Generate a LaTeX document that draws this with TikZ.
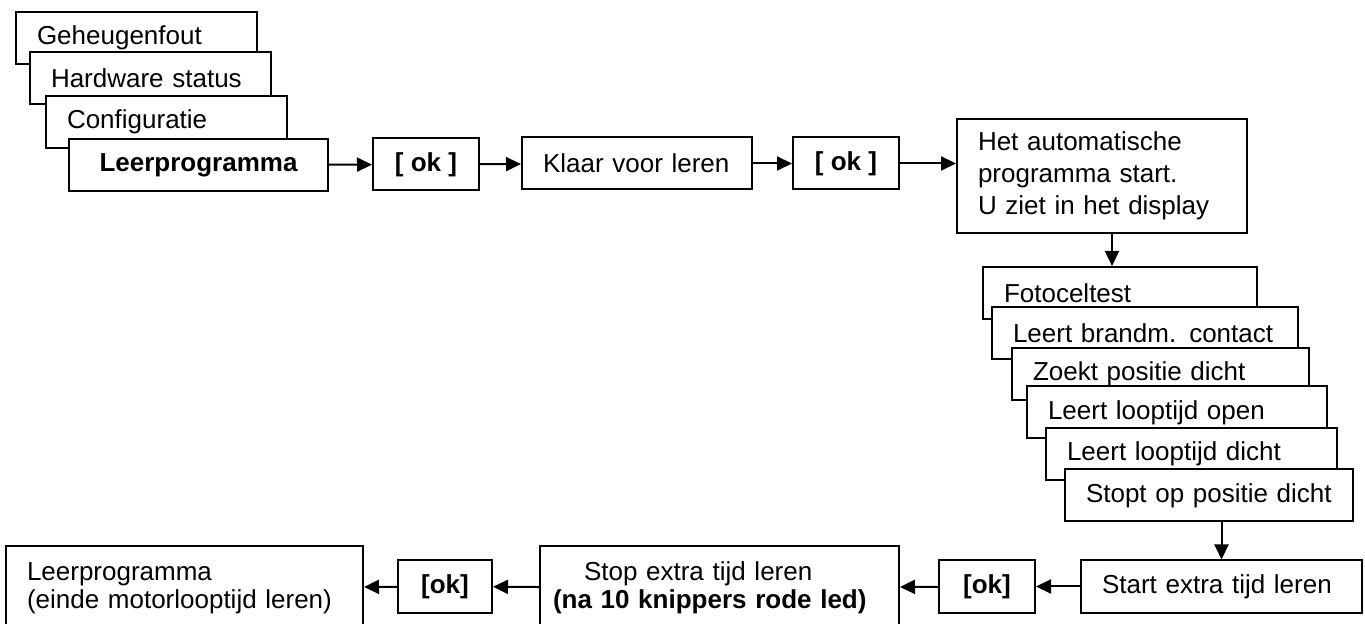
\documentclass[tikz,border=0pt]{standalone}
\usepackage{fontspec}
\setmainfont{Liberation Sans}
\usetikzlibrary{arrows.meta}

\begin{document}
\begin{tikzpicture}[x=0.5pt, y=-0.5pt, line width=1pt, >={Triangle[length=7.5pt,width=7pt]}, font=\fontsize{13pt}{15pt}\selectfont]
		\tikzstyle{box}=[draw=black, fill=white, inner xsep=10.5pt, inner ysep=0pt, minimum height=26pt, align=left]
		\tikzstyle{okbox}=[draw=black, fill=white, inner sep=0pt, minimum width=53pt, minimum height=26pt, font=\fontsize{13pt}{15pt}\selectfont\bfseries]

		\useasboundingbox (0,0) rectangle (1365,624);
		\clip (0,0) rectangle (1365,624);

		% Menu stack
		\node[box, text width=99.5pt] (geheugen) at (136.5,38) {Geheugenfout};
		\node[box, text width=99.5pt] (hardware) at (150.5,78) {Hardware status};
		\node[box, text width=99.5pt] (config) at (166.5,122) {Configuratie};
		\node[box, align=center, text width=108.5pt, font=\fontsize{13pt}{15pt}\selectfont\bfseries] (leerprog) at (198.5,165) {Leerprogramma};

		% Top row
		\node[okbox] (ok1) at (426,164.5) {[ ok ]};
		\node[box, text width=94pt] (klaar) at (637,163.5) {Klaar voor leren};
		\node[okbox] (ok2) at (846,163.5) {[ ok ]};
		\node[box, text width=124pt, minimum height=57pt, font=\fontsize{13pt}{16pt}\selectfont] (auto) at (1102,176) {Het automatische\\programma start.\\U ziet in het display};

		% Display stack
		\node[box, text width=116pt] (foto) at (1120,293) {Fotoceltest};
		\node[box, text width=132pt] (brandm) at (1145,333) {Leert brandm. contact};
		\node[box, text width=127.5pt] (zoekt) at (1160.5,374) {Zoekt positie dicht};
		\node[box, text width=129pt] (lopen) at (1177,412.5) {Leert looptijd open};
		\node[box, text width=124.5pt] (ldicht) at (1191.5,454) {Leert looptijd dicht};
		\node[box, text width=123pt] (stopt) at (1209,495.5) {Stopt op positie dicht};

		% Bottom row
		\node[box, text width=119.5pt] (startx) at (1221.5,586.5) {Start extra tijd leren};
		\node[okbox, minimum width=48pt] (ok3) at (987,586.5) {[ok]};
		\node[box, inner xsep=6.5pt, text width=166.5pt, minimum height=42pt, font=\fontsize{13pt}{14pt}\selectfont] (stopx) at (719.5,588) {\hspace*{15.5pt}Stop extra tijd leren\\\textbf{(na 10 knippers rode led)}};
		\node[okbox, minimum width=47pt] (ok4) at (445,586.5) {[ok]};
		\node[box, text width=157.5pt, minimum height=42pt, font=\fontsize{13pt}{14pt}\selectfont] (einde) at (184.5,588) {Leerprogramma\\(einde motorlooptijd leren)};

		% Draw arrows
		\path[->] (leerprog) edge (ok1);
		\path[->] (ok1) edge (klaar);
		\path[->] (klaar) edge (ok2);
		\path[->] (ok2.east) edge (ok2.east -| auto.west);
		\path[->] ([xshift=5pt]auto.south) edge ([xshift=5pt]auto.south |- foto.north);
		\path[->] (stopt.south -| startx.north) edge (startx.north);
		\path[->] (startx) edge (ok3);
		\path[->] (ok3) edge (stopx);
		\path[->] (stopx) edge (ok4);
		\path[->] (ok4) edge (einde);

\end{tikzpicture}
\end{document}
